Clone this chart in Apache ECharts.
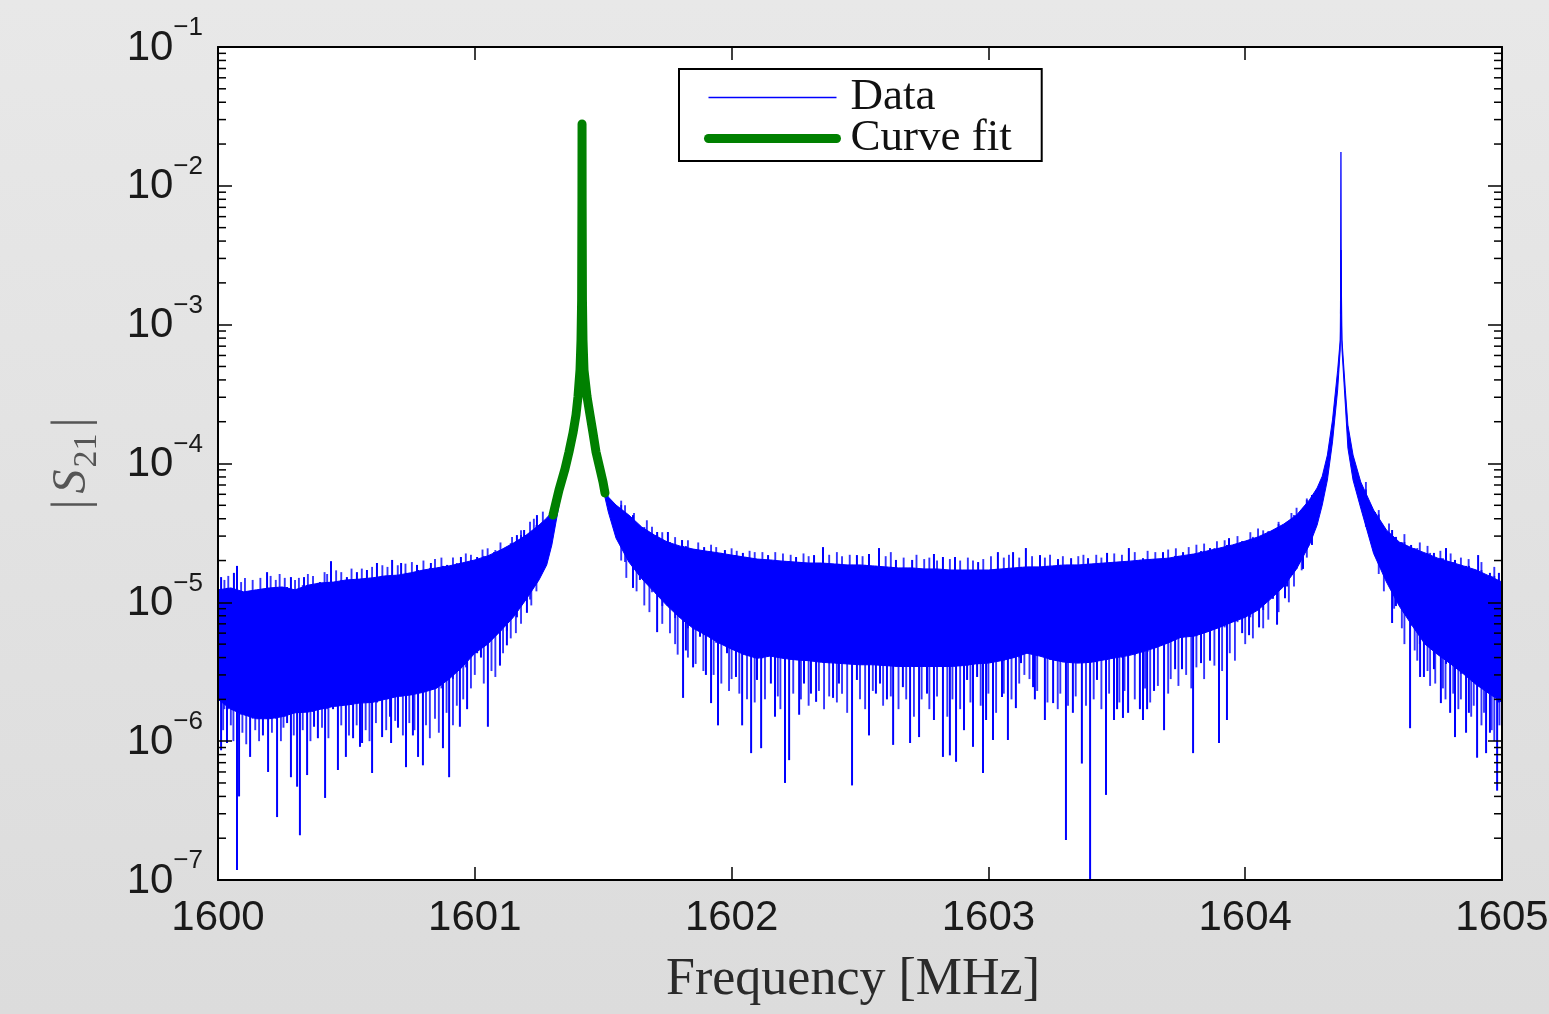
<!DOCTYPE html>
<html>
<head>
<meta charset="utf-8">
<title>|S21| vs frequency</title>
<script src="https://cdn.jsdelivr.net/npm/echarts@6.0.0/dist/echarts.min.js"></script>
<style>
  html, body { margin: 0; padding: 0; background: #e2e2e2; }
  #chart { width: 1549px; height: 1014px; }
</style>
</head>
<body>
<div id="chart"></div>
<script>
var BLUE = '#0000ff';
var BLUE_SOFT = 'rgba(0, 0, 255, 0.8)';
var GREEN = '#008000';

var freqMin = 1600, freqMax = 1605;
var decades = [1e-7, 1e-6, 1e-5, 1e-4, 1e-3, 1e-2];
var minorFactors = [2, 3, 4, 5, 6, 7, 8, 9];

// solid core of the measured trace: frequency [MHz], upper edge, lower edge
var bandFreq = [
  1600.00, 1600.05, 1600.10, 1600.15, 1600.20, 1600.25, 1600.30, 1600.35, 1600.40, 1600.45,
  1600.50, 1600.55, 1600.60, 1600.65, 1600.70, 1600.75, 1600.80, 1600.85, 1600.90, 1600.95,
  1601.00, 1601.05, 1601.10, 1601.15, 1601.20, 1601.25, 1601.28, 1601.30, 1601.35, 1601.38,
  1601.40, 1601.41, 1601.417, 1601.425, 1601.44, 1601.46, 1601.49, 1601.52, 1601.55, 1601.60,
  1601.65, 1601.70, 1601.75, 1601.80, 1601.85, 1601.90, 1601.95, 1602.00, 1602.05, 1602.10,
  1602.15, 1602.20, 1602.25, 1602.30, 1602.35, 1602.40, 1602.45, 1602.50, 1602.55, 1602.60,
  1602.65, 1602.70, 1602.75, 1602.80, 1602.85, 1602.90, 1602.95, 1603.00, 1603.05, 1603.10,
  1603.15, 1603.20, 1603.25, 1603.30, 1603.35, 1603.40, 1603.45, 1603.50, 1603.55, 1603.60,
  1603.65, 1603.70, 1603.75, 1603.80, 1603.85, 1603.90, 1603.95, 1604.00, 1604.05, 1604.10,
  1604.15, 1604.20, 1604.25, 1604.28, 1604.30, 1604.32, 1604.34, 1604.36, 1604.37, 1604.373,
  1604.377, 1604.39, 1604.40, 1604.42, 1604.45, 1604.50, 1604.55, 1604.60, 1604.65, 1604.70,
  1604.75, 1604.80, 1604.85, 1604.90, 1604.95, 1605.00
];
var bandTop = [
  1.23e-5, 1.27e-5, 1.19e-5, 1.23e-5, 1.27e-5, 1.29e-5, 1.23e-5, 1.33e-5, 1.38e-5, 1.40e-5,
  1.45e-5, 1.47e-5, 1.50e-5, 1.55e-5, 1.57e-5, 1.63e-5, 1.71e-5, 1.77e-5, 1.83e-5, 1.92e-5,
  2.02e-5, 2.16e-5, 2.38e-5, 2.67e-5, 3.05e-5, 3.6e-5, 4.05e-5, 4.47e-5, 9.4e-5, 1.7e-4,
  3.0e-4, 4.8e-4, 2.0e-2, 4.8e-4, 2.9e-4, 1.7e-4, 9.0e-5, 5.74e-5, 5.02e-5, 4.25e-5,
  3.49e-5, 3.05e-5, 2.72e-5, 2.54e-5, 2.42e-5, 2.34e-5, 2.27e-5, 2.19e-5, 2.12e-5, 2.05e-5,
  2.02e-5, 1.98e-5, 1.95e-5, 1.92e-5, 1.92e-5, 1.89e-5, 1.86e-5, 1.86e-5, 1.83e-5, 1.80e-5,
  1.77e-5, 1.77e-5, 1.74e-5, 1.74e-5, 1.71e-5, 1.71e-5, 1.71e-5, 1.71e-5, 1.74e-5, 1.77e-5,
  1.80e-5, 1.80e-5, 1.83e-5, 1.86e-5, 1.86e-5, 1.89e-5, 1.92e-5, 1.95e-5, 1.98e-5, 2.02e-5,
  2.05e-5, 2.08e-5, 2.16e-5, 2.23e-5, 2.34e-5, 2.46e-5, 2.59e-5, 2.76e-5, 2.96e-5, 3.26e-5,
  3.66e-5, 4.25e-5, 5.46e-5, 6.66e-5, 8.1e-5, 1.15e-4, 2.06e-4, 4.7e-4, 7.75e-4, 3.45e-3,
  7.75e-4, 3.38e-4, 1.89e-4, 1.15e-4, 7.36e-5, 4.62e-5, 3.32e-5, 2.72e-5, 2.46e-5, 2.27e-5,
  2.08e-5, 1.95e-5, 1.83e-5, 1.71e-5, 1.55e-5, 1.40e-5
];
var bandBottom = [
  2.0e-6, 1.7e-6, 1.55e-6, 1.45e-6, 1.45e-6, 1.5e-6, 1.6e-6, 1.62e-6, 1.7e-6, 1.78e-6,
  1.82e-6, 1.88e-6, 1.9e-6, 2.0e-6, 2.1e-6, 2.15e-6, 2.25e-6, 2.4e-6, 2.8e-6, 3.4e-6,
  4.3e-6, 5.0e-6, 6.2e-6, 7.8e-6, 1.05e-5, 1.45e-5, 1.86e-5, 2.59e-5, 8.4e-5, 1.5e-4,
  2.6e-4, 4.0e-4, 1.0e-2, 4.0e-4, 2.5e-4, 1.45e-4, 7.8e-5, 4.47e-5, 2.9e-5, 1.95e-5,
  1.48e-5, 1.18e-5, 9.4e-6, 7.7e-6, 6.5e-6, 5.8e-6, 5.1e-6, 4.6e-6, 4.2e-6, 3.95e-6,
  4.1e-6, 3.95e-6, 3.85e-6, 3.8e-6, 3.7e-6, 3.65e-6, 3.6e-6, 3.55e-6, 3.55e-6, 3.5e-6,
  3.45e-6, 3.45e-6, 3.45e-6, 3.45e-6, 3.45e-6, 3.5e-6, 3.6e-6, 3.65e-6, 3.8e-6, 4.0e-6,
  4.3e-6, 4.1e-6, 3.85e-6, 3.7e-6, 3.65e-6, 3.7e-6, 3.85e-6, 4.0e-6, 4.15e-6, 4.4e-6,
  4.7e-6, 5.1e-6, 5.6e-6, 5.7e-6, 6.1e-6, 6.6e-6, 7.2e-6, 7.8e-6, 8.8e-6, 1.06e-5,
  1.3e-5, 1.74e-5, 2.59e-5, 3.6e-5, 5.02e-5, 7.6e-5, 1.43e-4, 3.38e-4, 6.57e-4, 1.5e-3,
  6.57e-4, 2.64e-4, 1.29e-4, 7.6e-5, 4.77e-5, 2.25e-5, 1.4e-5, 9.4e-6, 6.8e-6, 5.0e-6,
  4.2e-6, 3.6e-6, 3.05e-6, 2.55e-6, 2.2e-6, 1.9e-6
];

// deep downward excursions below the core: [frequency, value]
var dips = [
  [1600.012, 8.6e-7], [1600.035, 9.7e-7], [1600.074, 1.18e-7], [1600.082, 4.0e-7], [1600.125, 7.7e-7],
  [1600.175, 1.1e-6], [1600.195, 6.0e-7], [1600.230, 2.84e-7], [1600.269, 1.35e-6], [1600.284, 5.5e-7],
  [1600.308, 4.7e-7], [1600.319, 2.1e-7], [1600.347, 5.7e-7], [1600.374, 1.27e-6], [1600.389, 1.05e-6],
  [1600.417, 3.9e-7], [1600.448, 1.7e-6], [1600.467, 6.2e-7], [1600.498, 7.7e-7], [1600.526, 1.05e-6],
  [1600.553, 9.1e-7], [1600.561, 9.7e-7], [1600.600, 5.9e-7], [1600.639, 1.07e-6], [1600.670, 1.5e-6],
  [1600.674, 9.7e-7], [1600.701, 1.25e-6], [1600.732, 6.5e-7], [1600.759, 1.1e-6], [1600.779, 7.7e-7],
  [1600.798, 6.7e-7], [1600.876, 8.9e-7], [1600.900, 5.5e-7], [1600.942, 1.27e-6], [1600.970, 1.7e-6],
  [1601.024, 4.0e-6], [1601.051, 1.27e-6], [1601.098, 3.5e-6], [1601.125, 4.9e-6], [1601.203, 8.4e-6],
  [1601.616, 1.27e-5], [1601.643, 1.45e-5], [1601.710, 6.1e-6], [1601.811, 2.05e-6], [1601.822, 4.5e-6],
  [1601.850, 3.4e-6], [1601.877, 5.65e-6], [1601.900, 3.0e-6], [1601.920, 1.88e-6], [1601.947, 1.3e-6],
  [1601.982, 4.3e-6], [1602.017, 2.9e-6], [1602.041, 1.3e-6], [1602.076, 8.2e-7], [1602.099, 2.76e-6],
  [1602.115, 8.9e-7], [1602.153, 2.6e-6], [1602.169, 1.5e-6], [1602.208, 5.0e-7], [1602.224, 7.3e-7],
  [1602.263, 1.55e-6], [1602.282, 2.6e-6], [1602.309, 2.2e-6], [1602.329, 1.92e-6], [1602.395, 2.05e-6],
  [1602.418, 2.6e-6], [1602.469, 4.8e-7], [1602.488, 2.76e-6], [1602.535, 1.1e-6], [1602.562, 2.2e-6],
  [1602.578, 2.6e-6], [1602.605, 2.0e-6], [1602.629, 9.4e-7], [1602.667, 2.45e-6], [1602.695, 9.7e-7],
  [1602.730, 1.07e-6], [1602.761, 2.2e-6], [1602.788, 1.42e-6], [1602.823, 7.7e-7], [1602.850, 7.9e-7],
  [1602.874, 7.1e-7], [1602.905, 1.2e-6], [1602.917, 2.76e-6], [1602.940, 9.1e-7], [1602.956, 2.9e-6],
  [1602.979, 5.9e-7], [1602.991, 1.42e-6], [1603.018, 1.02e-6], [1603.053, 2.08e-6], [1603.076, 1.02e-6],
  [1603.107, 1.73e-6], [1603.127, 3.65e-6], [1603.174, 2.45e-6], [1603.181, 2.0e-6], [1603.220, 1.42e-6],
  [1603.252, 1.88e-6], [1603.302, 1.94e-7], [1603.329, 1.6e-6], [1603.364, 6.9e-7], [1603.396, 9.5e-8],
  [1603.423, 2.76e-6], [1603.458, 4.1e-7], [1603.489, 1.42e-6], [1603.501, 1.7e-6], [1603.524, 1.47e-6],
  [1603.544, 1.6e-6], [1603.590, 1.7e-6], [1603.602, 1.42e-6], [1603.618, 1.7e-6], [1603.645, 2.3e-6],
  [1603.684, 1.2e-6], [1603.727, 3.3e-6], [1603.754, 3.3e-6], [1603.797, 8.2e-7], [1603.828, 3.65e-6],
  [1603.863, 3.8e-6], [1603.898, 9.7e-7], [1603.929, 1.42e-6], [1603.988, 6.0e-6], [1604.015, 5.8e-6],
  [1604.054, 6.6e-6], [1604.124, 6.9e-6], [1604.155, 1.07e-5],
  [1604.572, 7.1e-6], [1604.642, 1.24e-6], [1604.681, 2.9e-6], [1604.696, 2.9e-6], [1604.735, 3.3e-6],
  [1604.762, 1.88e-6], [1604.798, 1.6e-6], [1604.817, 1.07e-6], [1604.860, 1.15e-6], [1604.871, 1.6e-6],
  [1604.903, 7.6e-7], [1604.938, 8.2e-7], [1604.953, 1.15e-6], [1604.981, 4.4e-7]
];

// short, fainter downward excursions along the lower edge
var shallowDips = [
  [1600.020, 1.2e-6], [1600.050, 1.3e-6], [1600.060, 1.0e-6], [1600.095, 1.15e-6], [1600.110, 9.5e-7],
  [1600.145, 1.2e-6], [1600.160, 1.0e-6], [1600.210, 1.15e-6], [1600.245, 1.0e-6], [1600.255, 1.25e-6],
  [1600.295, 1.1e-6], [1600.330, 1.2e-6], [1600.360, 1.0e-6], [1600.405, 1.25e-6], [1600.430, 1.05e-6],
  [1600.480, 1.3e-6], [1600.510, 1.1e-6], [1600.540, 1.3e-6], [1600.575, 1.2e-6], [1600.590, 1.0e-6],
  [1600.615, 1.35e-6], [1600.655, 1.2e-6], [1600.690, 1.4e-6], [1600.720, 1.1e-6], [1600.745, 1.35e-6],
  [1600.765, 1.2e-6], [1600.810, 1.3e-6], [1600.825, 1.05e-6], [1600.845, 1.45e-6], [1600.860, 1.15e-6],
  [1600.890, 1.6e-6], [1600.915, 1.3e-6], [1600.930, 1.8e-6], [1600.955, 2.0e-6], [1600.985, 2.4e-6],
  [1601.000, 3.0e-6], [1601.035, 2.6e-6], [1601.065, 3.2e-6], [1601.080, 2.9e-6], [1601.110, 4.3e-6],
  [1601.140, 5.5e-6], [1601.160, 6.0e-6], [1601.180, 7.0e-6], [1601.220, 9.5e-6], [1601.240, 1.2e-5],
  [1601.570, 2.0e-5], [1601.590, 1.5e-5], [1601.630, 1.2e-5], [1601.660, 9.5e-6], [1601.680, 8.5e-6],
  [1601.730, 7.0e-6], [1601.760, 6.0e-6], [1601.780, 5.0e-6], [1601.790, 4.2e-6], [1601.830, 4.0e-6],
  [1601.860, 3.6e-6], [1601.890, 3.2e-6], [1601.930, 3.0e-6], [1601.960, 2.6e-6], [1601.990, 2.3e-6],
  [1602.000, 2.8e-6], [1602.030, 2.2e-6], [1602.060, 2.0e-6], [1602.090, 1.9e-6], [1602.130, 2.0e-6],
  [1602.180, 2.1e-6], [1602.190, 1.7e-6], [1602.240, 2.2e-6], [1602.270, 2.0e-6], [1602.300, 1.8e-6],
  [1602.340, 2.3e-6], [1602.360, 1.7e-6], [1602.380, 2.1e-6], [1602.410, 1.9e-6], [1602.430, 2.2e-6],
  [1602.450, 1.6e-6], [1602.500, 2.0e-6], [1602.520, 1.7e-6], [1602.550, 2.3e-6], [1602.590, 1.8e-6],
  [1602.620, 2.1e-6], [1602.650, 1.7e-6], [1602.680, 2.0e-6], [1602.710, 1.5e-6], [1602.740, 2.0e-6],
  [1602.770, 1.7e-6], [1602.800, 2.1e-6], [1602.840, 1.5e-6], [1602.860, 2.0e-6], [1602.890, 1.7e-6],
  [1602.930, 1.9e-6], [1602.970, 1.8e-6], [1603.000, 2.2e-6], [1603.030, 1.6e-6], [1603.060, 2.2e-6],
  [1603.090, 2.0e-6], [1603.120, 2.6e-6], [1603.140, 3.0e-6], [1603.160, 2.8e-6], [1603.190, 2.3e-6],
  [1603.230, 1.9e-6], [1603.270, 1.7e-6], [1603.280, 2.2e-6], [1603.310, 1.8e-6], [1603.340, 2.1e-6],
  [1603.380, 1.8e-6], [1603.410, 2.0e-6], [1603.440, 1.7e-6], [1603.470, 2.2e-6], [1603.510, 1.9e-6],
  [1603.530, 2.3e-6], [1603.570, 2.0e-6], [1603.610, 2.4e-6], [1603.630, 1.9e-6], [1603.660, 2.5e-6],
  [1603.700, 2.2e-6], [1603.710, 2.8e-6], [1603.740, 2.5e-6], [1603.770, 3.0e-6], [1603.790, 2.4e-6],
  [1603.810, 3.4e-6], [1603.840, 2.8e-6], [1603.880, 3.5e-6], [1603.910, 3.2e-6], [1603.940, 4.3e-6],
  [1603.960, 3.8e-6], [1604.000, 5.0e-6], [1604.030, 5.5e-6], [1604.070, 6.5e-6], [1604.090, 7.5e-6],
  [1604.130, 8.5e-6], [1604.170, 1.0e-5], [1604.190, 1.3e-5], [1604.220, 1.7e-5], [1604.240, 2.1e-5],
  [1604.470, 3.5e-5], [1604.520, 1.6e-5], [1604.540, 1.2e-5], [1604.580, 9.0e-6], [1604.610, 6.5e-6],
  [1604.620, 5.0e-6], [1604.660, 4.5e-6], [1604.670, 3.8e-6], [1604.710, 3.2e-6], [1604.720, 2.5e-6],
  [1604.740, 2.6e-6], [1604.770, 2.4e-6], [1604.780, 2.0e-6], [1604.810, 2.2e-6], [1604.830, 1.7e-6],
  [1604.840, 2.0e-6], [1604.880, 1.5e-6], [1604.890, 1.8e-6], [1604.920, 1.3e-6], [1604.930, 1.6e-6],
  [1604.960, 1.2e-6], [1604.970, 1.0e-6], [1604.990, 1.3e-6]
];

// upward excursions above the core: [frequency, value]
var rises = [
  [1600.012, 1.52e-5], [1600.062, 1.63e-5], [1600.074, 1.83e-5], [1600.191, 1.65e-5], [1600.284, 1.52e-5],
  [1600.335, 1.52e-5], [1600.397, 1.4e-5], [1600.440, 1.98e-5], [1600.502, 1.52e-5], [1600.541, 1.65e-5],
  [1600.580, 1.71e-5], [1600.619, 1.92e-5], [1600.678, 2.02e-5], [1600.713, 1.92e-5], [1600.775, 1.86e-5],
  [1600.829, 1.92e-5], [1600.892, 1.86e-5], [1600.946, 2.12e-5], [1601.009, 2.12e-5], [1601.075, 2.3e-5],
  [1601.125, 2.46e-5], [1601.164, 3.05e-5], [1601.192, 3.32e-5], [1601.242, 4.25e-5],
  [1601.710, 3.21e-5], [1601.752, 3.21e-5], [1601.807, 2.81e-5], [1601.893, 2.5e-5], [1601.974, 2.38e-5],
  [1602.044, 2.27e-5], [1602.142, 2.19e-5], [1602.251, 2.12e-5], [1602.321, 2.19e-5], [1602.356, 2.5e-5],
  [1602.488, 2.19e-5], [1602.535, 2.23e-5], [1602.574, 2.46e-5], [1602.640, 2.02e-5], [1602.703, 2.02e-5],
  [1602.788, 2.23e-5], [1602.823, 2.12e-5], [1602.870, 2.12e-5], [1602.960, 1.95e-5], [1603.037, 2.3e-5],
  [1603.096, 2.3e-5], [1603.146, 2.46e-5], [1603.201, 2.19e-5], [1603.271, 2.05e-5], [1603.322, 2.08e-5],
  [1603.388, 2.08e-5], [1603.462, 2.27e-5], [1603.547, 2.46e-5], [1603.602, 2.08e-5], [1603.680, 2.3e-5],
  [1603.758, 2.3e-5], [1603.863, 2.46e-5], [1603.937, 2.9e-5], [1603.999, 2.67e-5], [1604.108, 3.32e-5],
  [1604.163, 3.79e-5], [1604.225, 4.77e-5], [1604.260, 5.93e-5],
  [1604.505, 4.47e-5], [1604.587, 2.96e-5], [1604.646, 2.59e-5], [1604.735, 2.27e-5], [1604.782, 2.46e-5],
  [1604.817, 2.02e-5], [1604.907, 2.19e-5], [1604.953, 1.63e-5], [1604.988, 1.63e-5]
];

// short upward excursions along the upper edge
var shallowRises = [
  [1600.025, 1.45e-5], [1600.040, 1.55e-5], [1600.090, 1.4e-5], [1600.105, 1.5e-5], [1600.135, 1.45e-5],
  [1600.165, 1.5e-5], [1600.205, 1.55e-5], [1600.225, 1.45e-5], [1600.240, 1.6e-5], [1600.260, 1.5e-5],
  [1600.300, 1.45e-5], [1600.315, 1.5e-5], [1600.350, 1.6e-5], [1600.370, 1.55e-5], [1600.415, 1.65e-5],
  [1600.425, 1.6e-5], [1600.460, 1.7e-5], [1600.480, 1.65e-5], [1600.520, 1.75e-5], [1600.560, 1.75e-5],
  [1600.600, 1.8e-5], [1600.640, 1.85e-5], [1600.660, 1.8e-5], [1600.700, 1.85e-5], [1600.730, 1.9e-5],
  [1600.755, 1.95e-5], [1600.800, 2.0e-5], [1600.845, 2.05e-5], [1600.870, 2.1e-5], [1600.915, 2.1e-5],
  [1600.965, 2.25e-5], [1600.985, 2.2e-5], [1601.030, 2.4e-5], [1601.050, 2.45e-5], [1601.100, 2.7e-5],
  [1601.145, 2.95e-5], [1601.180, 3.3e-5], [1601.215, 3.8e-5], [1601.230, 4.0e-5], [1601.265, 4.5e-5],
  [1601.570, 5.4e-5], [1601.585, 5.0e-5], [1601.620, 4.4e-5], [1601.670, 3.9e-5], [1601.690, 3.5e-5],
  [1601.730, 3.2e-5], [1601.780, 2.95e-5], [1601.830, 2.8e-5], [1601.870, 2.7e-5], [1601.920, 2.6e-5],
  [1601.940, 2.5e-5], [1602.000, 2.45e-5], [1602.020, 2.35e-5], [1602.070, 2.35e-5], [1602.090, 2.3e-5],
  [1602.120, 2.3e-5], [1602.170, 2.3e-5], [1602.200, 2.25e-5], [1602.230, 2.2e-5], [1602.280, 2.25e-5],
  [1602.300, 2.15e-5], [1602.380, 2.2e-5], [1602.410, 2.3e-5], [1602.430, 2.15e-5], [1602.460, 2.2e-5],
  [1602.510, 2.15e-5], [1602.600, 2.15e-5], [1602.620, 2.3e-5], [1602.670, 2.1e-5], [1602.720, 2.2e-5],
  [1602.750, 2.05e-5], [1602.770, 2.1e-5], [1602.800, 2.0e-5], [1602.850, 2.05e-5], [1602.890, 2.0e-5],
  [1602.920, 2.1e-5], [1602.940, 2.0e-5], [1602.980, 2.05e-5], [1603.010, 2.15e-5], [1603.060, 2.1e-5],
  [1603.080, 2.2e-5], [1603.120, 2.1e-5], [1603.170, 2.15e-5], [1603.220, 2.1e-5], [1603.240, 2.2e-5],
  [1603.290, 2.15e-5], [1603.350, 2.15e-5], [1603.370, 2.2e-5], [1603.420, 2.2e-5], [1603.440, 2.1e-5],
  [1603.490, 2.25e-5], [1603.520, 2.2e-5], [1603.570, 2.3e-5], [1603.620, 2.35e-5], [1603.650, 2.3e-5],
  [1603.700, 2.4e-5], [1603.730, 2.45e-5], [1603.780, 2.5e-5], [1603.810, 2.6e-5], [1603.840, 2.65e-5],
  [1603.890, 2.75e-5], [1603.920, 2.8e-5], [1603.970, 3.0e-5], [1604.020, 3.2e-5], [1604.050, 3.4e-5],
  [1604.070, 3.3e-5], [1604.130, 3.8e-5], [1604.180, 4.4e-5], [1604.200, 4.8e-5], [1604.240, 5.6e-5],
  [1604.470, 6.5e-5], [1604.520, 4.3e-5], [1604.560, 3.7e-5], [1604.620, 3.1e-5], [1604.680, 2.7e-5],
  [1604.710, 2.55e-5], [1604.760, 2.35e-5], [1604.800, 2.25e-5], [1604.840, 2.1e-5], [1604.870, 2.05e-5],
  [1604.920, 1.95e-5], [1604.970, 1.8e-5], [1605.000, 1.7e-5]
];

// narrow tip of the second resonance
var peakTrace = [[1604.3715, 1.2e-3], [1604.3728, 1.75e-2], [1604.3740, 1.2e-3]];

// Lorentzian fit around the first resonance
var fitTrace = [
  [1601.3045, 4.25e-5], [1601.3279, 6.44e-5], [1601.3512, 9.12e-5], [1601.3668, 1.21e-4],
  [1601.3824, 1.66e-4], [1601.3941, 2.24e-4], [1601.4019, 3.04e-4], [1601.4097, 4.72e-4],
  [1601.4136, 7.76e-4], [1601.4160, 1.51e-3], [1601.4172, 7.9e-3], [1601.4176, 2.79e-2],
  [1601.4180, 7.9e-3], [1601.4192, 1.51e-3], [1601.4213, 7.76e-4], [1601.4252, 4.72e-4],
  [1601.4369, 3.04e-4], [1601.4486, 2.24e-4], [1601.4603, 1.66e-4], [1601.4720, 1.21e-4],
  [1601.4875, 9.12e-5], [1601.4992, 7.36e-5], [1601.5070, 6.13e-5]
];

function nearestRow (f) {
  var best = 0;
  for (var i = 1; i < bandFreq.length; i++) {
    if (Math.abs(bandFreq[i] - f) < Math.abs(bandFreq[best] - f)) best = i;
  }
  return best;
}

// vertical stroke from a spike tip back into the core
function spikeSeries (name, list, baseArr, color, width) {
  return {
    type: 'custom',
    name: name,
    silent: true,
    clip: true,
    data: list,
    encode: { x: 0, y: 1 },
    renderItem: function (params, api) {
      var f = api.value(0);
      var tip = api.coord([f, api.value(1)]);
      var base = api.coord([f, baseArr[nearestRow(f)]]);
      return {
        type: 'line',
        shape: { x1: tip[0], y1: tip[1], x2: base[0], y2: base[1] },
        style: { stroke: color, lineWidth: width }
      };
    }
  };
}

var minorTicks = [];
decades.forEach(function (d) {
  minorFactors.forEach(function (m) { minorTicks.push([freqMin, m * d]); });
});

var tickStyle = { color: '#000', width: 1.5 };
var lineStyleAxis = { color: '#000', width: 2 };
var labelFont = 'Liberation Sans';

function logLabel (v) {
  var e = Math.round(Math.log10(v));
  return '{b|10}{e|' + (e < 0 ? '\u2212' : '') + Math.abs(e) + '}';
}

var option = {
  animation: false,
  backgroundColor: new echarts.graphic.LinearGradient(0, 0, 0, 1, [
    { offset: 0, color: '#e8e8e8' },
    { offset: 1, color: '#dcdcdc' }
  ]),
  grid: {
    left: 218, right: 47, top: 47, bottom: 134,
    outerBoundsMode: 'none',
    containLabel: false,
    show: true, backgroundColor: '#fff', borderWidth: 0
  },
  legend: {
    data: ['Data', 'Curve fit'],
    orient: 'vertical',
    left: 679,
    top: 69,
    padding: [6, 30, 0, 25],
    itemGap: -4,
    itemWidth: 128,
    itemHeight: 20,
    selectedMode: false,
    backgroundColor: '#fff',
    borderColor: '#000',
    borderWidth: 2,
    itemStyle: { opacity: 0, borderWidth: 0 },
    lineStyle: { width: 'inherit' },
    textStyle: {
      fontFamily: 'Liberation Serif', fontSize: 45, lineHeight: 41,
      color: '#111', padding: [0, 0, 0, 9]
    }
  },
  xAxis: [
    {
      type: 'value',
      min: freqMin, max: freqMax, interval: 1,
      z: 10,
      name: 'Frequency [MHz]',
      nameLocation: 'middle',
      nameGap: 74,
      nameTextStyle: {
        fontFamily: 'Liberation Serif', fontSize: 52, lineHeight: 52,
        color: '#2a2a2a', padding: [0, 14, 0, 0]
      },
      axisLine: { show: true, lineStyle: lineStyleAxis },
      axisTick: { show: true, inside: true, length: 13, lineStyle: tickStyle },
      axisLabel: {
        fontFamily: labelFont, fontSize: 42, color: '#1a1a1a', margin: 17,
        formatter: function (v) { return String(v); }
      },
      splitLine: { show: false }
    },
    {
      type: 'value',
      position: 'top',
      min: freqMin, max: freqMax, interval: 1,
      z: 10,
      axisLine: { show: true, lineStyle: lineStyleAxis },
      axisTick: { show: true, inside: true, length: 13, lineStyle: tickStyle },
      axisLabel: { show: false },
      splitLine: { show: false }
    }
  ],
  yAxis: [
    {
      type: 'log',
      logBase: 10,
      min: 1e-7, max: 1e-1,
      splitNumber: 6,
      z: 10,
      name: '{bar||}{s|S}{sub|21}{bar||}',
      nameLocation: 'middle',
      nameRotate: 90,
      nameGap: 120,
      nameTextStyle: {
        color: '#555',
        rich: {
          bar: { fontFamily: 'Liberation Serif', fontSize: 50, lineHeight: 50, verticalAlign: 'top', padding: [0, 6, 0, 6], color: '#555' },
          s: { fontFamily: 'Liberation Serif', fontStyle: 'italic', fontSize: 48, lineHeight: 48, verticalAlign: 'top', color: '#555' },
          sub: { fontFamily: 'Liberation Serif', fontSize: 34, lineHeight: 34, verticalAlign: 'top', padding: [22, 0, 0, 2], color: '#555' }
        }
      },
      axisLine: { show: true, lineStyle: lineStyleAxis },
      axisTick: { show: true, inside: true, length: 14, lineStyle: tickStyle },
      axisLabel: {
        formatter: logLabel,
        margin: 15,
        padding: [26, 0, 0, 0],
        rich: {
          b: { fontFamily: labelFont, fontSize: 42, lineHeight: 42, color: '#1a1a1a', verticalAlign: 'bottom', padding: [0, 0, 12, 0] },
          e: { fontFamily: labelFont, fontSize: 26, lineHeight: 26, color: '#1a1a1a', verticalAlign: 'bottom', padding: [0, 0, 40, 0] }
        }
      },
      splitLine: { show: false }
    },
    {
      type: 'log',
      logBase: 10,
      position: 'right',
      min: 1e-7, max: 1e-1,
      splitNumber: 6,
      z: 10,
      axisLine: { show: true, lineStyle: lineStyleAxis },
      axisTick: { show: true, inside: true, length: 14, lineStyle: tickStyle },
      axisLabel: { show: false },
      splitLine: { show: false }
    }
  ],
  series: [
    {
      type: 'line',
      name: 'Data',
      data: peakTrace,
      symbol: 'none',
      lineStyle: { color: BLUE, width: 1.3 },
      itemStyle: { color: BLUE },
      z: 3
    },
    {
      type: 'custom',
      name: 'core',
      silent: true,
      clip: true,
      data: bandFreq.map(function (f, i) { return [f, bandTop[i], bandBottom[i]]; }),
      encode: { x: 0, y: [1, 2] },
      renderItem: function (params, api) {
        if (params.dataIndex !== 0) return null;
        var upper = [], lower = [];
        for (var i = 0; i < bandFreq.length; i++) {
          upper.push(api.coord([bandFreq[i], bandTop[i]]));
          lower.unshift(api.coord([bandFreq[i], bandBottom[i]]));
        }
        return {
          type: 'polygon',
          shape: { points: upper.concat(lower) },
          style: { fill: BLUE, stroke: BLUE, lineWidth: 1 }
        };
      }
    },
    spikeSeries('shallowDips', shallowDips, bandTop, BLUE_SOFT, 1.9),
    spikeSeries('shallowRises', shallowRises, bandBottom, BLUE_SOFT, 1.9),
    spikeSeries('dips', dips, bandTop, BLUE, 2),
    spikeSeries('rises', rises, bandBottom, BLUE, 2),
    {
      type: 'line',
      name: 'Curve fit',
      data: fitTrace,
      symbol: 'none',
      lineStyle: { color: GREEN, width: 9, cap: 'round', join: 'round' },
      itemStyle: { color: GREEN },
      z: 4
    },
    {
      // minor log ticks on the left and right frame
      type: 'custom',
      name: 'minorTicks',
      silent: true,
      z: 10,
      data: minorTicks,
      encode: { x: 0, y: 1 },
      renderItem: function (params, api) {
        var v = api.value(1);
        var l = api.coord([freqMin, v]);
        var r = api.coord([freqMax, v]);
        return {
          type: 'group',
          children: [
            { type: 'line', shape: { x1: l[0], y1: l[1], x2: l[0] + 8, y2: l[1] }, style: { stroke: '#000', lineWidth: 1.5 } },
            { type: 'line', shape: { x1: r[0], y1: r[1], x2: r[0] - 8, y2: r[1] }, style: { stroke: '#000', lineWidth: 1.5 } }
          ]
        };
      }
    }
  ]
};

var chart = echarts.init(document.getElementById('chart'));
chart.setOption(option);
</script>
</body>
</html>
